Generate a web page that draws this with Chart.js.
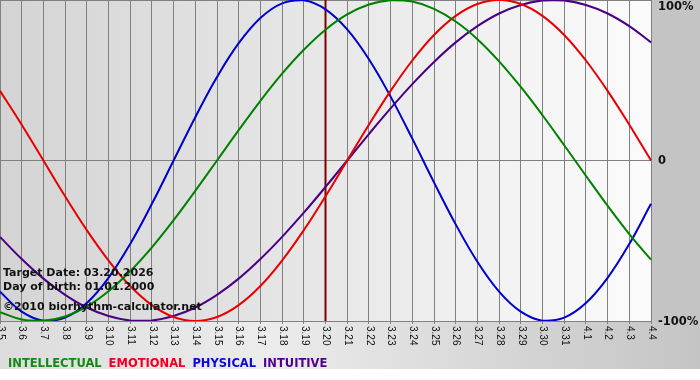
<!DOCTYPE html>
<html>
<head>
<meta charset="utf-8">
<script src="https://cdn.jsdelivr.net/npm/chart.js@4/dist/chart.umd.min.js"></script>
<style>
html,body{margin:0;padding:0;background:#fff;}
#wrap{width:700px;height:380px;position:relative;}
</style>
</head>
<body>
<div id="wrap"><canvas id="c" width="700" height="380"></canvas></div>
<script>
const categories = ['3.5','3.6','3.7','3.8','3.9','3.10','3.11','3.12','3.13','3.14','3.15','3.16','3.17','3.18','3.19','3.20','3.21','3.22','3.23','3.24','3.25','3.26','3.27','3.28','3.29','3.30','3.31','4.1','4.2','4.3','4.4'];
const intellectual = [-94.5,-99.0,-99.9,-97.2,-91.0,-81.5,-69.0,-54.1,-37.2,-18.9,0,18.9,37.2,54.1,69.0,81.5,91.0,97.2,99.9,99.0,94.5,86.6,75.6,61.8,45.8,28.2,9.5,-9.5,-28.2,-45.8,-61.8];
const emotional = [43.4,22.3,0,-22.3,-43.4,-62.3,-78.2,-90.1,-97.5,-100,-97.5,-90.1,-78.2,-62.3,-43.4,-22.3,0,22.3,43.4,62.3,78.2,90.1,97.5,100,97.5,90.1,78.2,62.3,43.4,22.3,0];
const physical = [-81.7,-94.2,-99.8,-97.9,-88.8,-73.1,-52.0,-27.0,0,27.0,52.0,73.1,88.8,97.9,99.8,94.2,81.7,63.1,39.8,13.6,-13.6,-39.8,-63.1,-81.7,-94.2,-99.8,-97.9,-88.8,-73.1,-52.0,-27.0];
const intuitive = [-47.6,-61.4,-73.6,-83.7,-91.6,-96.9,-99.7,-99.7,-96.9,-91.6,-83.7,-73.6,-61.4,-47.6,-32.5,-16.5,0,16.5,32.5,47.6,61.4,73.6,83.7,91.6,96.9,99.7,99.7,96.9,91.6,83.7,73.6];
const yTickValues = [100, 0, -100];
const yTickLabels = ['100%', '0', '-100%'];
const targetCategory = '3.20';
const infoLines = ['Target Date: 03.20.2026', 'Day of birth: 01.01.2000', '\u00A92010 biorhythm-calculator.net'];

const seriesColors = {
  INTELLECTUAL: '#008000',
  EMOTIONAL: '#e80000',
  PHYSICAL: '#0000cc',
  INTUITIVE: '#4b0082'
};
const legendColors = {
  INTELLECTUAL: '#138a13',
  EMOTIONAL: '#f00020',
  PHYSICAL: '#0a0ad0',
  INTUITIVE: '#500090'
};

const bgPlugin = {
  id: 'bg',
  beforeDraw(chart) {
    const ctx = chart.ctx, a = chart.chartArea;
    const W = chart.width, H = chart.height;
    ctx.save();
    const g = ctx.createLinearGradient(0, 0, W, 0);
    g.addColorStop(0, '#dcdcdc');
    g.addColorStop(0.38, '#ececec');
    g.addColorStop(1, '#c4c4c4');
    ctx.fillStyle = g;
    ctx.fillRect(0, 0, W, H);
    ctx.fillStyle = '#c4c4c4';
    ctx.fillRect(a.right, 0, W - a.right, a.bottom);
    ctx.fillStyle = '#ffffff';
    ctx.fillRect(0, 369, W, H - 369);
    const pg = ctx.createLinearGradient(a.left, 0, a.right, 0);
    pg.addColorStop(0, '#d4d4d4');
    pg.addColorStop(1, '#fbfbfb');
    ctx.fillStyle = pg;
    ctx.fillRect(a.left, a.top, a.right - a.left, a.bottom - a.top);
    ctx.restore();
  },
  beforeDatasetsDraw(chart) {
    const ctx = chart.ctx, a = chart.chartArea;
    const x = chart.scales.x.getPixelForValue(categories.indexOf(targetCategory));
    ctx.save();
    ctx.strokeStyle = '#800000';
    ctx.lineWidth = 2;
    ctx.beginPath();
    ctx.moveTo(x, a.top);
    ctx.lineTo(x, a.bottom);
    ctx.stroke();
    ctx.restore();
  },
  afterDraw(chart) {
    const ctx = chart.ctx, a = chart.chartArea;
    const xs = chart.scales.x, ys = chart.scales.y;
    ctx.save();
    ctx.fillStyle = '#111';
    ctx.font = '10px "Liberation Sans", Arial, sans-serif';
    ctx.textAlign = 'left';
    ctx.textBaseline = 'middle';
    categories.forEach((lab, i) => {
      const x = xs.getPixelForValue(i);
      ctx.save();
      ctx.translate(x + 0.5, a.bottom + 5);
      ctx.rotate(Math.PI / 2);
      ctx.fillText(lab, 0, 0);
      ctx.restore();
    });
    ctx.fillStyle = '#111';
    ctx.font = 'bold 11.5px "DejaVu Sans", Verdana, sans-serif';
    ctx.textBaseline = 'middle';
    yTickValues.forEach((v, i) => {
      let y = ys.getPixelForValue(v) + 1;
      if (y < 7) y = 7;
      ctx.fillText(yTickLabels[i], a.right + 7, y);
    });
    ctx.fillStyle = '#111';
    ctx.font = 'bold 11px "DejaVu Sans", Verdana, sans-serif';
    ctx.textBaseline = 'alphabetic';
    const baselines = [276, 290, 310];
    infoLines.forEach((t, i) => ctx.fillText(t, 3, baselines[i]));
    ctx.font = 'bold 11.5px "DejaVu Sans", Verdana, sans-serif';
    let lx = 8;
    chart.data.datasets.forEach(ds => {
      ctx.fillStyle = legendColors[ds.label];
      ctx.fillText(ds.label, lx, 367);
      lx += ctx.measureText(ds.label).width + 7;
    });
    ctx.restore();
  }
};

function mk(label, data) {
  return {
    label, data,
    borderColor: seriesColors[label],
    backgroundColor: seriesColors[label],
    borderWidth: 2,
    pointRadius: 0,
    tension: 0.4,
    fill: false
  };
}

new Chart(document.getElementById('c'), {
  type: 'line',
  data: {
    labels: categories,
    datasets: [
      mk('INTELLECTUAL', intellectual),
      mk('EMOTIONAL', emotional),
      mk('PHYSICAL', physical),
      mk('INTUITIVE', intuitive)
    ]
  },
  options: {
    responsive: false,
    animation: false,
    devicePixelRatio: 1,
    layout: { padding: 0 },
    plugins: { legend: { display: false }, tooltip: { enabled: false } },
    scales: {
      x: {
        offset: false,
        grid: { color: '#808080', lineWidth: 1, tickLength: 3, drawTicks: true, offset: false },
        border: { color: '#808080' },
        ticks: { display: false, autoSkip: false },
        afterFit(s) { s.height = 59; }
      },
      y: {
        position: 'right',
        min: -100, max: 100,
        afterBuildTicks(s) { s.ticks = yTickValues.map(v => ({ value: v })); },
        grid: { color: '#808080', lineWidth: 1, drawTicks: false },
        border: { color: '#808080' },
        ticks: { display: false },
        afterFit(s) { s.width = 49; }
      }
    }
  },
  plugins: [bgPlugin]
});
</script>
</body>
</html>
